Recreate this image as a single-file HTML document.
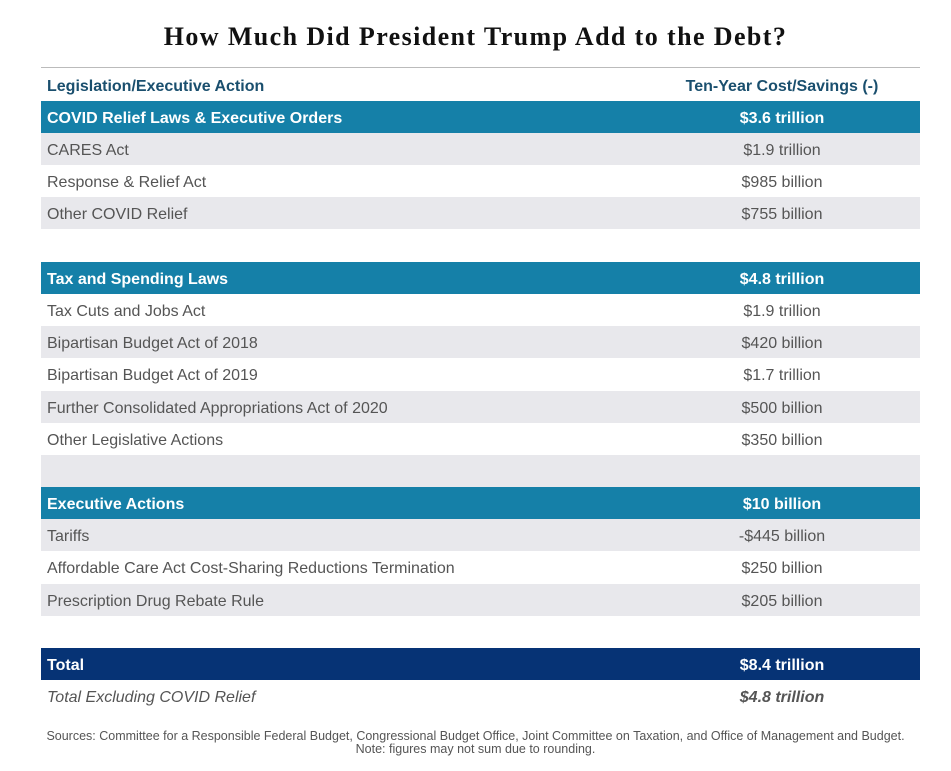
<!DOCTYPE html>
<html><head><style>
body{margin:0;width:951px;height:771px;background:#fff;font-family:"Liberation Sans",sans-serif;position:relative;overflow:hidden}
.t{position:absolute;top:22px;left:0;width:951px;text-align:center;font-family:"Liberation Serif",serif;font-weight:bold;font-size:26px;letter-spacing:1.4px;color:#111}
.rule{position:absolute;left:41px;width:879px;top:67px;height:1px;background:#bbb}
.r{position:absolute;left:41px;width:879px;height:32px;line-height:35px;font-size:16px;color:#555}
.r span{position:absolute;left:6px}
.r b{position:absolute;left:591px;width:300px;text-align:center;font-weight:normal}
.h{background:#1580a8;color:#fff;font-weight:bold}
.h b{font-weight:bold!important}
.g{background:#e8e8ec}
.n{background:#063375;color:#fff;font-weight:bold}
.n b{font-weight:bold!important}
.hd{color:#1a4f6e;font-weight:bold}
.hd b{font-weight:bold!important}
.src{position:absolute;left:0;width:951px;text-align:center;font-size:12.5px;color:#555;top:730px;line-height:13px}
</style></head><body>
<div class="t">How Much Did President Trump Add to the Debt?</div>
<div class="rule"></div>
<div class="r hd" style="top:69px"><span>Legislation/Executive Action</span><b>Ten-Year Cost/Savings (-)</b></div>
<div class="r h" style="top:101px"><span>COVID Relief Laws &amp; Executive Orders</span><b>$3.6 trillion</b></div>
<div class="r g" style="top:133px"><span>CARES Act</span><b>$1.9 trillion</b></div>
<div class="r" style="top:165px"><span>Response &amp; Relief Act</span><b>$985 billion</b></div>
<div class="r g" style="top:197px"><span>Other COVID Relief</span><b>$755 billion</b></div>
<div class="r h" style="top:262px"><span>Tax and Spending Laws</span><b>$4.8 trillion</b></div>
<div class="r" style="top:294px"><span>Tax Cuts and Jobs Act</span><b>$1.9 trillion</b></div>
<div class="r g" style="top:326px"><span>Bipartisan Budget Act of 2018</span><b>$420 billion</b></div>
<div class="r" style="top:358px"><span>Bipartisan Budget Act of 2019</span><b>$1.7 trillion</b></div>
<div class="r g" style="top:391px"><span>Further Consolidated Appropriations Act of 2020</span><b>$500 billion</b></div>
<div class="r" style="top:423px"><span>Other Legislative Actions</span><b>$350 billion</b></div>
<div class="r g" style="top:455px"></div>
<div class="r h" style="top:487px"><span>Executive Actions</span><b>$10 billion</b></div>
<div class="r g" style="top:519px"><span>Tariffs</span><b>-$445 billion</b></div>
<div class="r" style="top:551px"><span>Affordable Care Act Cost-Sharing Reductions Termination</span><b>$250 billion</b></div>
<div class="r g" style="top:584px"><span>Prescription Drug Rebate Rule</span><b>$205 billion</b></div>
<div class="r n" style="top:648px"><span>Total</span><b>$8.4 trillion</b></div>
<div class="r" style="top:680px;font-style:italic"><span>Total Excluding COVID Relief</span><b style="font-weight:bold">$4.8 trillion</b></div>
<div class="src">Sources: Committee for a Responsible Federal Budget, Congressional Budget Office, Joint Committee on Taxation, and Office of Management and Budget.<br>Note: figures may not sum due to rounding.</div>
</body></html>
